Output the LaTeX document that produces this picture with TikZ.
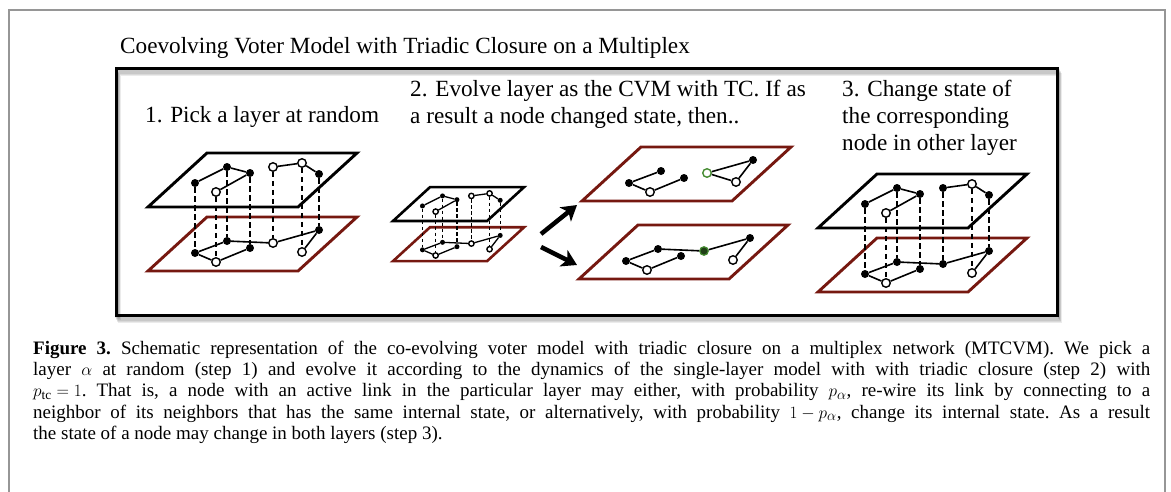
\documentclass[tikz,border=0pt]{standalone}
\usepackage{fontspec}
\setmainfont{Liberation Serif}
\usetikzlibrary{arrows.meta,calc}

\definecolor{layerred}{RGB}{118,24,16}
\definecolor{hlgreen}{RGB}{70,140,50}
\definecolor{framegray}{RGB}{150,150,150}

\tikzset{
  plane/.style={line width=2.9pt, line join=miter},
  blackplane/.style={plane, draw=black},
  redplane/.style={plane, draw=layerred},
  link/.style={line width=1.6pt},
  vlink/.style={line width=1.8pt, dash pattern=on 5.5pt off 3.5pt},
  fnode/.style={circle, fill=black, inner sep=0pt, minimum size=8pt},
  onode/.style={circle, draw=black, fill=white, line width=1.4pt, inner sep=0pt, minimum size=8.5pt},
  gonode/.style={onode, draw=hlgreen},
  gfnode/.style={circle, fill=black!55!hlgreen, draw=hlgreen, line width=1.2pt, inner sep=0pt, minimum size=8.5pt},
  bigarrow/.style={line width=4.5pt, -{Stealth[length=15pt,width=18pt,inset=4pt]}},
  headtext/.style={font=\fontsize{23.2}{27}\selectfont, inner sep=0pt, anchor=base west},
  captext/.style={font=\fontsize{19}{21.4}\selectfont\frenchspacing, inner sep=0pt, anchor=base west,
    text width=1117pt, align=justify},
}

% lower (red) layer with its network; #1 plane style, #2 style of node E, #3 links
\newcommand\lownet[3]{%
  \draw[#1] (0,0) -- (150,0) -- (209,-54) -- (59,-54) -- cycle;
  \node[fnode] (A) at (47,-18) {};
  \node[onode] (B) at (68,-9) {};
  \node[fnode] (C) at (79,-30) {};
  \node[fnode] (D) at (102,-23) {};
  \node[#2] (E) at (125,-28) {};
  \node[fnode] (F) at (171,-41) {};
  \node[onode] (G) at (154,-19) {};
  \draw[link] #3;
}
% upper (black) layer with its network; #1 style of node E
\newcommand\upnet[1]{%
  \draw[blackplane] (0,0) -- (150,0) -- (209,-54) -- (59,-54) -- cycle;
  \node[fnode] (A) at (47,-24) {};
  \node[onode] (B) at (68,-15) {};
  \node[fnode] (C) at (79,-40) {};
  \node[fnode] (D) at (102,-34) {};
  \node[#1] (E) at (125,-40) {};
  \node[onode] (G) at (154,-44) {};
  \node[fnode] (F) at (171,-33) {};
  \draw[link] (A) -- (C) (C) -- (D) (D) -- (B) (E) -- (G) (G) -- (F);
}
% two-layer multiplex with interlayer (dashed) links; #1 prefix, #2 style of node E
\newcommand\layerstack[2]{%
  \begin{scope}[shift={(0,64)}, name prefix=#1b-]
    \lownet{redplane}{#2}{(A) -- (C) (A) -- (B) (B) -- (D) (C) -- (E) (E) -- (F) (F) -- (G)}
  \end{scope}
  \begin{scope}[name prefix=#1t-]
    \upnet{#2}
  \end{scope}
  \foreach \n in {A,B,C,D,E,F,G} \draw[vlink] (#1t-\n) -- (#1b-\n);
}

\begin{document}
\begin{tikzpicture}[x=1pt, y=-1pt]
\useasboundingbox (0,0) rectangle (1171,491);

% outer frame (open at the bottom)
\draw[framegray, line width=1.5pt] (9,495) -- (9,10) -- (1165,10) -- (1165,495);

\node[headtext] (title) at (120,53) {Coevolving Voter Model with Triadic Closure on a Multiplex};

% inner box with a soft shadow
\foreach \k in {1,...,6}
  \draw[black, opacity=0.08, line width=3pt] ($(116,68)+(0.5*\k,1*\k)$) rectangle ($(1057,315)+(0.5*\k,1*\k)$);
\draw[black, line width=3pt] (116,68) rectangle (1057,315);

% step labels
\node[headtext] (s1) at (145,122) {1. Pick a layer at random};
\node[headtext] (s2a) at (410,96) {2. Evolve layer as the CVM with TC. If as};
\node[headtext] (s2b) at (410,123.5) {a result a node changed state, then..};
\node[headtext] (s3a) at (842,96) {3. Change state of};
\node[headtext] (s3b) at (842,123) {the corresponding};
\node[headtext] (s3c) at (842,150) {node in other layer};

% step 1
\begin{scope}[shift={(148,207)}]
  \layerstack{p}{onode}
\end{scope}

% step 2: small copy of the multiplex
\begin{scope}[shift={(393,221)}, scale=0.627,
    every node/.append style={transform shape},
    plane/.append style={line width=2.6pt},
    link/.append style={line width=1.3pt},
    vlink/.append style={line width=1.4pt, dash pattern=on 3.5pt off 2.5pt}]
  \layerstack{q}{onode}
\end{scope}

% step 2: the two outcomes
\coordinate (u0) at (541,234);
\coordinate (u1) at (577,205);
\coordinate (d0) at (541,247);
\coordinate (d1) at (577,265);
\draw[bigarrow] (u0) -- (u1);
\draw[bigarrow] (d0) -- (d1);

\begin{scope}[shift={(582,201)}, name prefix=rw-]
  \lownet{redplane}{gonode}{(A) -- (C) (A) -- (B) (B) -- (D) (E) -- (F) (F) -- (G) (E) -- (G)}
\end{scope}
\begin{scope}[shift={(579,279)}, name prefix=cs-]
  \lownet{redplane}{gfnode}{(A) -- (C) (A) -- (B) (B) -- (D) (C) -- (E) (E) -- (F) (F) -- (G)}
\end{scope}

% step 3
\begin{scope}[shift={(818,228)}]
  \layerstack{r}{fnode}
\end{scope}

% caption
\node[captext] (cap) at (33,354) {\textbf{Figure 3.} Schematic representation of the co-evolving voter model with triadic closure on a multiplex network (MTCVM). We pick a\linebreak
layer \mbox{$\alpha$} at random (step 1) and evolve it according to the dynamics of the single-layer model with with triadic closure (step 2) with\linebreak
\mbox{$p_{\mathrm{tc}} = 1$}. That is, a node with an active link in the particular layer may either, with probability \mbox{$p_{\alpha}$}, re-wire its link by connecting to a\linebreak
neighbor of its neighbors that has the same internal state, or alternatively, with probability \mbox{$1 - p_{\alpha}$}, change its internal state. As a result\linebreak
the state of a node may change in both layers (step 3).};
\end{tikzpicture}
\end{document}
